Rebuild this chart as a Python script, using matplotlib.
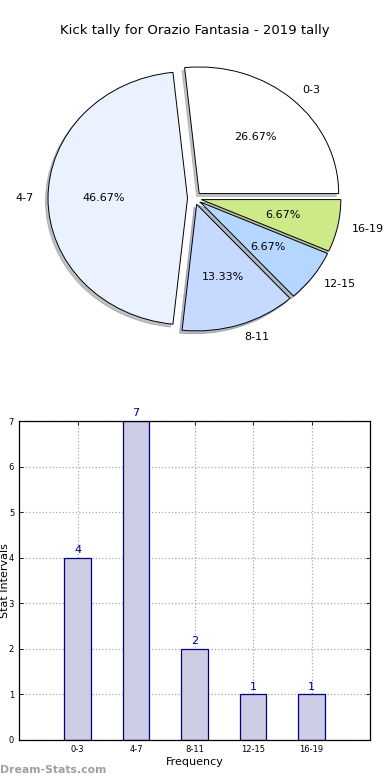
import matplotlib
import matplotlib.pyplot as plt
import numpy as np

matplotlib.use("Agg")

## Data
categories = ["0-3", "4-7", "8-11", "12-15", "16-19"]
counts = [4, 7, 2, 1, 1]
pie_colors = ["#FFFFFF", "#EAF1FF", "#C6D9FF", "#B4D6FF", "#CDEA89"]
explode = [0.05, 0.05, 0.05, 0.05, 0.05]
title = "Kick tally for Orazio Fantasia - 2019 tally"

fig = plt.figure(figsize=(3.9, 7.8), dpi=100)

# pie on top (old-style, not forced circular)
ax1 = fig.add_axes([0.0516, 0.5429, 0.8942, 0.4058])
ax1.pie(counts, labels=categories, colors=pie_colors, explode=explode,
        autopct="%1.2f%%", startangle=0,
        shadow={"ox": -0.013, "oy": -0.016, "shade": 0.45},
        wedgeprops={"edgecolor": "black", "linewidth": 0.7},
        textprops={"fontsize": 8})
ax1.set_aspect("auto")
ax1.set_xlim(-1.25, 1.25)
ax1.set_ylim(-1.25, 1.25)
ax1.set_title(title, fontsize=9.5, pad=4)

# bar chart below
ax2 = fig.add_axes([0.0487, 0.0513, 0.9003, 0.4087])
x = np.arange(len(categories))
bars = ax2.bar(x, counts, width=0.45, color="#CCCCE4", edgecolor="#000080", linewidth=0.9, zorder=2)
ax2.set_xlim(-1, 5)
ax2.set_ylim(0, 7)
ax2.set_xticks(x)
ax2.set_xticklabels(categories, fontsize=6)
ax2.set_yticks(range(0, 8))
ax2.tick_params(axis="y", labelsize=6)
ax2.tick_params(direction="in", top=True, right=True, length=3, width=0.6)
ax2.grid(True, linestyle=":", color="#AAAAAA", linewidth=0.9, zorder=0)
ax2.set_axisbelow(True)
for s in ax2.spines.values():
    s.set_linewidth(0.9)
ax2.set_xlabel("Frequency", fontsize=8, labelpad=2)
ax2.set_ylabel("Stat Intervals", fontsize=8)
ax2.yaxis.set_label_coords(-0.025, 0.5)
for bar, v in zip(bars, counts):
    ax2.annotate(str(v), (bar.get_x() + bar.get_width() / 2, v), xytext=(0, 2),
                 textcoords="offset points", ha="center", va="bottom",
                 fontsize=8, color="#000080")

fig.text(0.0, 0.006, "Dream-Stats.com", fontsize=7.8, color="#A0A0A0",
         fontweight="bold", ha="left", va="bottom")

fig.savefig("out.png", dpi=100)
